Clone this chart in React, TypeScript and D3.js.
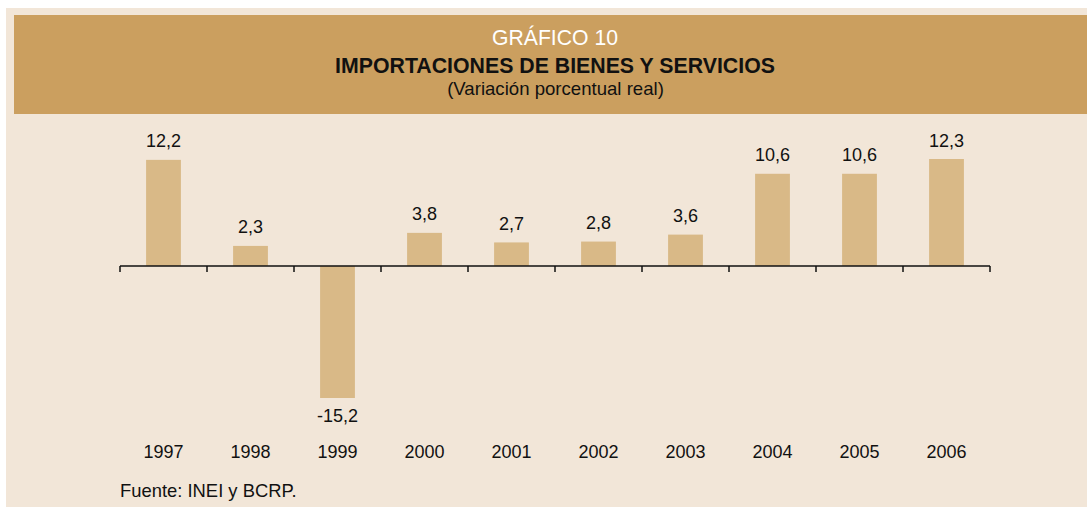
import React from "react";
import * as d3 from "d3";

const years = ["1997", "1998", "1999", "2000", "2001", "2002", "2003", "2004", "2005", "2006"];
const values = [12.2, 2.3, -15.2, 3.8, 2.7, 2.8, 3.6, 10.6, 10.6, 12.3];
const titleLines = ["GRÁFICO 10", "IMPORTACIONES DE BIENES Y SERVICIOS", "(Variación porcentual real)"];
const sourceNote = "Fuente: INEI y BCRP.";

const W = 1087;
const H = 507;
const FONT = "'Liberation Sans', Arial, sans-serif";

export default function App() {
  const x = d3.scaleBand<string>().domain(years).range([120, 990]).paddingInner(0.6).paddingOuter(0.3);
  const y = d3.scaleLinear().domain([-15.2, 12.3]).range([398, 159]);
  const y0 = y(0);
  const tickXs = d3.range(years.length + 1).map((i) => 120 + i * x.step());
  const fmt = (v: number) => d3.format(".1f")(v).replace(".", ",").replace("\u2212", "-");

  return (
    <svg width={W} height={H} style={{ position: "absolute", left: 0, top: 0 }} fontFamily={FONT}>
      <rect x={6} y={8} width={W - 6} height={H - 8} fill="#F2E6D8" />
      <rect x={14} y={15} width={W - 14} height={99} fill="#CB9F5F" />
      <text x={555} y={45} textAnchor="middle" fontSize={21.2} fill="#ffffff">{titleLines[0]}</text>
      <text x={555} y={73} textAnchor="middle" fontSize={21.3} fontWeight="bold" fill="#111">{titleLines[1]}</text>
      <text x={555.5} y={95} textAnchor="middle" fontSize={18.6} fill="#111">{titleLines[2]}</text>

      {years.map((yr, i) => {
        const v = values[i];
        const bx = x(yr)!;
        const top = v >= 0 ? y(v) : y0;
        const h = Math.abs(y(v) - y0);
        return (
          <g key={yr}>
            <rect x={bx} y={top} width={x.bandwidth()} height={h} fill="#D9B987" />
            <text
              x={bx + x.bandwidth() / 2}
              y={v >= 0 ? y(v) - 12.5 : y(v) + 24}
              textAnchor="middle"
              fontSize={18}
              fill="#111"
            >
              {fmt(v)}
            </text>
            <text x={bx + x.bandwidth() / 2} y={457.5} textAnchor="middle" fontSize={18} fill="#111">
              {yr}
            </text>
          </g>
        );
      })}

      <line x1={120} x2={990} y1={y0} y2={y0} stroke="#111" strokeWidth={1.5} />
      {tickXs.map((tx, i) => (
        <line key={i} x1={tx} x2={tx} y1={y0} y2={y0 + 6} stroke="#111" strokeWidth={1.5} />
      ))}

      <text x={120} y={496.5} fontSize={18.4} fill="#111">{sourceNote}</text>
    </svg>
  );
}
